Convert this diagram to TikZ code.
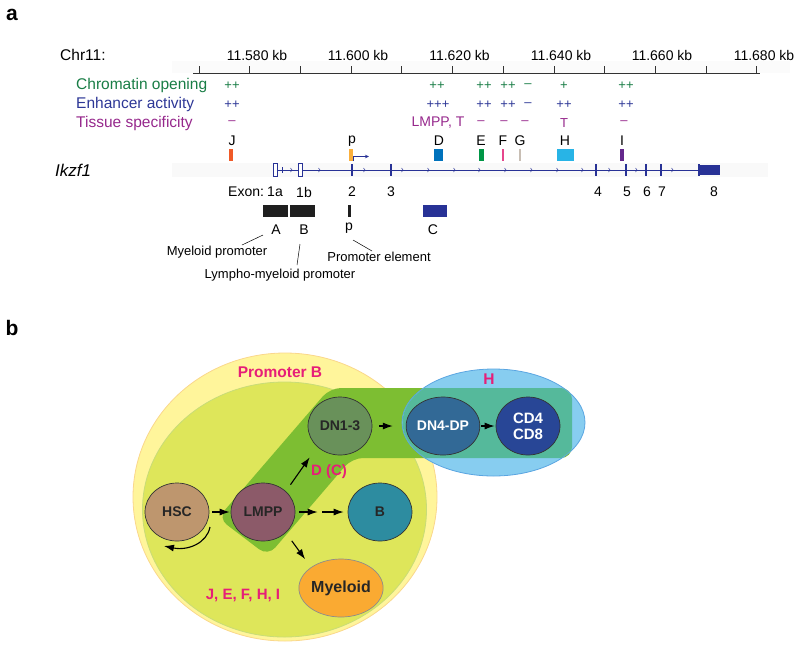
\documentclass[tikz,border=0pt]{standalone}
\usepackage{fontspec}
\setmainfont{Liberation Sans}
\usetikzlibrary{arrows.meta,shapes.geometric}
\newcommand{\myfs}[1]{\fontsize{#1}{#1}\selectfont}
\definecolor{chromgreen}{RGB}{25,125,70}
\definecolor{enhblue}{RGB}{45,55,150}
\definecolor{tispurple}{RGB}{150,40,140}
\definecolor{geneblue}{RGB}{40,50,150}
\definecolor{magred}{RGB}{230,30,120}
\definecolor{barJ}{RGB}{240,90,40}
\definecolor{barP}{RGB}{250,175,60}
\definecolor{barD}{RGB}{0,114,188}
\definecolor{barE}{RGB}{0,150,70}
\definecolor{barF}{RGB}{230,70,140}
\definecolor{barG}{RGB}{200,190,180}
\definecolor{barH}{RGB}{40,180,230}
\definecolor{barI}{RGB}{100,40,140}
\definecolor{outeryellow}{RGB}{255,245,155}
\definecolor{outerborder}{RGB}{250,215,140}
\definecolor{inneryg}{RGB}{222,230,90}
\definecolor{innerborder}{RGB}{200,220,120}
\definecolor{bandgreen}{RGB}{125,190,50}
\definecolor{ellblue}{RGB}{135,205,240}
\definecolor{ellborder}{RGB}{90,165,225}
\definecolor{bandteal}{RGB}{85,185,155}
\definecolor{cHSC}{RGB}{190,150,110}
\definecolor{cLMPP}{RGB}{140,90,105}
\definecolor{cDN}{RGB}{105,145,90}
\definecolor{cB}{RGB}{45,140,160}
\definecolor{cMy}{RGB}{250,170,50}
\definecolor{cDP}{RGB}{50,105,150}
\definecolor{cCD}{RGB}{40,70,150}
\tikzset{
  lbl/.style={font=\myfs{14}, inner sep=0},
  val/.style={font=\myfs{13}, inner sep=0},
  cell/.style={ellipse, minimum width=64pt, minimum height=58pt, inner sep=0,
    draw=black!80, line width=0.7pt, font=\myfs{14}\bfseries, text=black!85},
  arr/.style={-{Latex[length=10pt,width=7pt]}, line width=1.1pt, black},
  chev/.style={geneblue, line width=0.5pt}
}
\begin{document}
\begin{tikzpicture}[x=1pt,y=-1pt]
\useasboundingbox (0,0) rectangle (800,649);
% ---------------- panel a ----------------
\node[font=\myfs{21}\bfseries, inner sep=0] (pa) at (12,15) {a};
\node[anchor=west, font=\myfs{15.5}, inner sep=0] (chr) at (60,55) {Chr11:};
\fill[gray!3] (172,61) rectangle (790,73);
\draw[line width=0.8pt, black!80] (193,73) -- (760,73);
\foreach \k in {0,...,11} \draw[line width=0.8pt, black!80] (199+50.7*\k,73) -- (199+50.7*\k,66);
\foreach \t/\x in {580/250,600/351,620/452.5,640/554,660/655,680/757}
  \node[font=\myfs{14}, inner sep=0] at (\x+7,55) {11.\t\ kb};
\node[anchor=west, font=\myfs{15.5}, inner sep=0, text=chromgreen] (rco) at (76,85) {Chromatin opening};
\node[anchor=west, font=\myfs{15.5}, inner sep=0, text=enhblue] (rea) at (76,104) {Enhancer activity};
\node[anchor=west, font=\myfs{15.5}, inner sep=0, text=tispurple] (rts) at (76,123) {Tissue specificity};
% values
\foreach \x/\v in {232/++,437/++,484/++,508/++,528/–,564/+,626/++}
  \node[val, text=chromgreen] at (\x,86) {\v};
\foreach \x/\v in {232/++,438/+++,484/++,508/++,528/–,564/++,626/++}
  \node[val, text=enhblue] at (\x,105) {\v};
\foreach \x/\v in {232/–,481/–,504/–,525/–,564/T,624/–}
  \node[val, text=tispurple] at (\x,123) {\v};
\node[font=\myfs{14}, inner sep=0, text=tispurple] at (438,123) {LMPP, T};
% letters
\foreach \x/\v in {232/J,352/p,439/D,481/E,503/F,520/G,565/H,622/I}
  \node[lbl] at (\x,141) {\v};
% bars
\fill[barJ] (229,149) rectangle (233,161);
\fill[barP] (349,149) rectangle (353,161);
\fill[barD] (434,149) rectangle (443,161);
\fill[barE] (479,149) rectangle (484,161);
\fill[barF] (502,149) rectangle (504,161);
\fill[barG] (519,149) rectangle (520.5,161);
\fill[barH] (557,149) rectangle (574,161);
\fill[barI] (620,149) rectangle (623.5,161);
\draw[geneblue, line width=0.8pt, -{Stealth[length=4pt,width=3.5pt]}] (353,161) -- (353,156.5) -- (369,156.5);
% gene
\node[font=\myfs{17}\itshape, inner sep=0] (ik) at (73,170) {Ikzf1};
\fill[gray!5] (172,163) rectangle (768,177);
\draw[geneblue, line width=1pt] (277,170) -- (700,170);
\draw[geneblue, line width=0.7pt, fill=white] (273,163.5) rectangle (277,176.5);
\draw[geneblue, line width=0.7pt, fill=white] (298,163.5) rectangle (302,176.5);
\foreach \x in {352,391,596,626,646,661,699}
  \draw[geneblue, line width=1.4pt] (\x,164) -- (\x,176);
\fill[geneblue] (699,165) rectangle (720,175);
\draw[chev] (282,167) -- (282,173);
\foreach \x in {292,320,365,403,429,455,480,506,532,558,583,610,637,673}
  \draw[chev] (\x-1.5,168) -- (\x,170) -- (\x-1.5,172);
% exon labels
\node[lbl, anchor=west] (exon) at (228,192) {Exon:};
\foreach \x/\v in {275/1a,304/1b,352/2,391/3,598/4,627/5,647/6,662/7,714/8}
  \node[lbl] at (\x,192) {\v};
% lower bars
\fill[black!88] (263,205) rectangle (288,217);
\fill[black!88] (290,205) rectangle (315,217);
\fill[black!88] (348,205) rectangle (351,217);
\fill[geneblue] (423,205) rectangle (447,217);
\node[lbl] (lA) at (276,230) {A};
\node[lbl] (lB) at (304,230) {B};
\node[lbl] (lp) at (349,228) {p};
\node[lbl] (lC) at (433,230) {C};
\node[font=\myfs{13}, inner sep=0] (mprom) at (217,252) {Myeloid promoter};
\node[font=\myfs{13}, inner sep=0] (lmprom) at (280,275) {Lympho-myeloid promoter};
\node[font=\myfs{13}, inner sep=0] (pel) at (379,257) {Promoter element};
\draw[line width=0.5pt] (263,235) -- (242,245);
\draw[line width=0.5pt] (300,244) -- (297,265);
\draw[line width=0.5pt] (353,240) -- (372,251);
% ---------------- panel b ----------------
\node[font=\myfs{21}\bfseries, inner sep=0] (pb) at (12,328) {b};
\filldraw[fill=outeryellow, draw=outerborder, line width=0.8pt] (285,497) ellipse [x radius=152, y radius=144];
\filldraw[fill=inneryg, draw=innerborder, line width=0.8pt] (284.5,509.5) ellipse [x radius=142, y radius=127.5];
\def\bandpath{(330,388) -- (572,388) -- (572,458) -- (352,458) -- (268,556) -- (218,518) -- cycle}
\fill[bandgreen, rounded corners=11pt] \bandpath;
\filldraw[fill=ellblue, draw=ellborder, line width=0.8pt] (493.5,422.5) ellipse [x radius=91.5, y radius=53.5];
\begin{scope}
  \clip (493.5,422.5) ellipse [x radius=91, y radius=53];
  \fill[bandteal, rounded corners=11pt] \bandpath;
\end{scope}
\node[font=\myfs{15.5}\bfseries, text=magred, inner sep=0] (tpb) at (280,372) {Promoter B};
\node[font=\myfs{15.5}\bfseries, text=magred, inner sep=0] (tH) at (489,379) {H};
\node[font=\myfs{15}\bfseries, text=magred, inner sep=0] (tDC) at (329,472) {D (C)};
\node[font=\myfs{15}\bfseries, text=magred, inner sep=0] (tJE) at (243,595) {J, E, F, H, I};
% cells
\node[cell, fill=cHSC] (HSC) at (177,512) {HSC};
\node[cell, fill=cLMPP] (LMPP) at (263,512) {LMPP};
\node[cell, fill=cDN] (DN) at (340,426) {DN1-3};
\node[cell, fill=cB] (B) at (380,512) {B};
\node[cell, fill=cMy, draw=black!45, font=\myfs{16}\bfseries] (My) at (341,588) {Myeloid};
\node[cell, fill=cDP, text=white] (DP) at (443,426) {DN4-DP};
\node[cell, fill=cCD, text=white, align=center, font=\myfs{15}\bfseries] (CD) at (528,426) {CD4\\[1pt]CD8};
% arrows
\draw[arr, shorten <=3pt, shorten >=1pt] (HSC) -- (LMPP);
\draw[arr, shorten <=4pt, shorten >=30pt] (LMPP) -- (B);
\draw[arr, shorten <=27pt, shorten >=4pt] (LMPP) -- (B);
\draw[arr, shorten <=8pt, shorten >=13pt] (LMPP.north east) -- (DN.south west);
\draw[arr, shorten <=10pt, shorten >=10pt] (LMPP.south east) -- (My.north west);
\draw[arr, shorten <=7pt, shorten >=13pt] (DN) -- (DP);
\draw[arr, shorten <=1pt, shorten >=1pt] (DP) -- (CD);
\coordinate (sr1) at (210,527);
\coordinate (sr2) at (164,546);
\draw[arr] (sr1) .. controls (207,543) and (188,551) .. (sr2);
\end{tikzpicture}
\end{document}
